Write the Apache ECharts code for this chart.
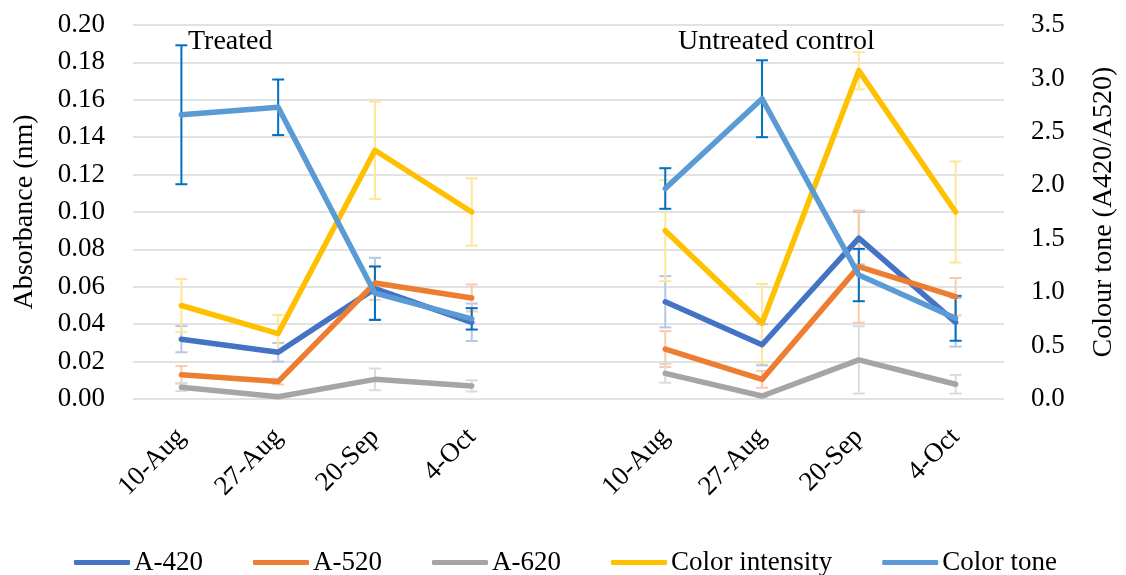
<!DOCTYPE html>
<html>
<head>
<meta charset="utf-8">
<title>Absorbance and colour tone</title>
<script src="https://cdn.jsdelivr.net/npm/echarts@6/dist/echarts.min.js"></script>
<style>
  html, body { margin: 0; padding: 0; background: #ffffff; }
  #chart { width: 1126px; height: 575px; }
</style>
</head>
<body>
<div id="chart"></div>
<script>
// Sampling dates; the empty slot separates the treated and control groups
const categories = ['10-Aug', '27-Aug', '20-Sep', '4-Oct', '', '10-Aug', '27-Aug', '20-Sep', '4-Oct'];

// Absorbance readings (nm) and their standard deviations
const a420 = [0.032, 0.025, 0.059, 0.041, null, 0.052, 0.029, 0.086, 0.041];
const a420Err = [0.007, 0.005, 0.0165, 0.010, null, 0.0137, 0.011, 0.014, 0.013];
const a520 = [0.013, 0.0093, 0.062, 0.054, null, 0.0267, 0.0105, 0.0708, 0.0547];
const a520Err = [0.0046, 0.0015, 0.009, 0.0072, null, 0.0096, 0.0045, 0.030, 0.010];
const a620 = [0.0063, 0.0012, 0.0105, 0.007, null, 0.0137, 0.0016, 0.0209, 0.0079];
const a620Err = [0.002, 0.001, 0.0058, 0.003, null, 0.005, 0.001, 0.018, 0.005];
const intensity = [0.050, 0.035, 0.133, 0.100, null, 0.090, 0.0405, 0.1756, 0.100];
const intensityErr = [0.0142, 0.010, 0.026, 0.018, null, 0.027, 0.021, 0.010, 0.027];

// Colour tone (A420/A520), right-hand axis
const tone = [2.66, 2.73, 0.99, 0.75, null, 1.97, 2.81, 1.16, 0.755];
const toneErr = [0.65, 0.26, 0.25, 0.10, null, 0.19, 0.36, 0.245, 0.21];

const leftTicks = { min: 0, max: 0.2, interval: 0.02 };
const rightTicks = { min: 0, max: 3.5, interval: 0.5 };

const FONT = "'Liberation Serif', 'DejaVu Serif', serif";
const SIZE = 27;

// Whisker series: vertical bar with caps at value ± deviation
function errorSeries(name, values, errs, color, width, yAxisIndex) {
  const data = [];
  values.forEach((v, i) => {
    if (v !== null && errs[i] !== null) data.push([i, v, errs[i]]);
  });
  return {
    type: 'custom',
    name: name,
    yAxisIndex: yAxisIndex,
    silent: true,
    data: data,
    renderItem: function (params, api) {
      const x = api.value(0);
      const v = api.value(1);
      const e = api.value(2);
      const top = api.coord([x, v + e]);
      const bot = api.coord([x, v - e]);
      const half = 6;
      const style = { stroke: color, lineWidth: width, fill: null };
      return {
        type: 'group',
        children: [
          { type: 'line', shape: { x1: top[0], y1: top[1], x2: bot[0], y2: bot[1] }, style: style },
          { type: 'line', shape: { x1: top[0] - half, y1: top[1], x2: top[0] + half, y2: top[1] }, style: style },
          { type: 'line', shape: { x1: bot[0] - half, y1: bot[1], x2: bot[0] + half, y2: bot[1] }, style: style }
        ]
      };
    }
  };
}

function lineSeries(name, values, color, yAxisIndex) {
  return {
    type: 'line',
    name: name,
    yAxisIndex: yAxisIndex,
    data: values,
    symbol: 'none',
    connectNulls: false,
    lineStyle: { color: color, width: 5.5, cap: 'round', join: 'round' },
    itemStyle: { color: color },
    emphasis: { disabled: true }
  };
}

const chart = echarts.init(document.getElementById('chart'), null, { renderer: 'canvas' });

chart.setOption({
  animation: false,
  backgroundColor: '#ffffff',
  textStyle: { fontFamily: FONT, color: '#000000' },
  grid: { left: 133, right: 110, top: 25, bottom: 176 },
  legend: {
    data: ['A-420', 'A-520', 'A-620', 'Color intensity', 'Color tone'],
    left: 69,
    top: 544,
    icon: 'roundRect',
    itemWidth: 56,
    itemHeight: 5,
    itemGap: 50,
    textStyle: { fontFamily: FONT, fontSize: SIZE, color: '#000000', padding: [0, 0, 0, -1] }
  },
  xAxis: {
    type: 'category',
    data: categories,
    boundaryGap: true,
    axisLine: { show: false },
    axisTick: { show: false },
    axisLabel: {
      rotate: 45,
      margin: 34,
      interval: 0,
      fontFamily: FONT,
      fontSize: SIZE,
      color: '#000000'
    }
  },
  yAxis: [
    {
      type: 'value',
      min: leftTicks.min,
      max: leftTicks.max,
      interval: leftTicks.interval,
      name: 'Absorbance (nm)',
      nameLocation: 'middle',
      nameGap: 94,
      nameRotate: 90,
      nameTextStyle: { fontFamily: FONT, fontSize: 28, color: '#000000' },
      axisLine: { show: false },
      axisTick: { show: false },
      axisLabel: {
        margin: 28,
        fontFamily: FONT,
        fontSize: SIZE,
        color: '#000000',
        formatter: v => v.toFixed(2)
      },
      splitLine: { lineStyle: { color: '#d9d9d9', width: 1.5 } }
    },
    {
      type: 'value',
      position: 'right',
      min: rightTicks.min,
      max: rightTicks.max,
      interval: rightTicks.interval,
      name: 'Colour tone (A420/A520)',
      nameLocation: 'middle',
      nameGap: 86,
      nameRotate: 90,
      nameTextStyle: { fontFamily: FONT, fontSize: 28, color: '#000000' },
      axisLine: { show: false },
      axisTick: { show: false },
      axisLabel: {
        margin: 27,
        fontFamily: FONT,
        fontSize: SIZE,
        color: '#000000',
        formatter: v => v.toFixed(1)
      },
      splitLine: { show: false }
    }
  ],
  graphic: [
    {
      type: 'text', left: 188, top: 28,
      style: { text: 'Treated', font: '28px ' + FONT, fill: '#000000' }
    },
    {
      type: 'text', left: 678, top: 28,
      style: { text: 'Untreated control', font: '28px ' + FONT, fill: '#000000' }
    }
  ],
  series: [
    errorSeries('A-420 sd', a420, a420Err, '#b4c7e7', 2, 0),
    lineSeries('A-420', a420, '#4472c4', 0),
    errorSeries('A-520 sd', a520, a520Err, '#f8cbad', 2, 0),
    lineSeries('A-520', a520, '#ed7d31', 0),
    errorSeries('A-620 sd', a620, a620Err, '#dbdbdb', 2, 0),
    lineSeries('A-620', a620, '#a5a5a5', 0),
    errorSeries('Color intensity sd', intensity, intensityErr, '#ffe699', 2, 0),
    lineSeries('Color intensity', intensity, '#ffc000', 0),
    lineSeries('Color tone', tone, '#5b9bd5', 1),
    errorSeries('Color tone sd', tone, toneErr, '#0070c0', 2, 1)
  ]
});
</script>
</body>
</html>
